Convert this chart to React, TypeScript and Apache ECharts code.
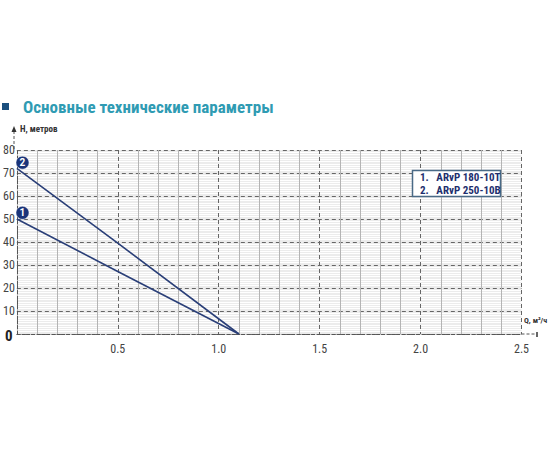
import React, { useEffect, useRef } from "react";
import * as echarts from "echarts";

const xTicks = [0, 0.5, 1.0, 1.5, 2.0, 2.5];
const yTicks = [0, 10, 20, 30, 40, 50, 60, 70, 80];
const curve1 = [[0, 50], [0.5, 27.2], [1.1, 0]];
const curve2 = [[0, 72], [0.5, 39.5], [1.1, 0]];
const badges = [
  { name: "1", value: [0.028, 52.7] },
  { name: "2", value: [0.028, 74.5] },
];
const legendLines = ["1.   ARvP 180-10T", "2.   ARvP 250-10B"];
const title = "Основные технические параметры";
const yName = "H, метров";
const xName = "Q, м³/ч";

const NAVY = "#2a3f78";
const FONT = "'Liberation Sans Narrow', 'Roboto Condensed', 'DejaVu Sans Condensed', 'Liberation Sans', sans-serif";

export default function App() {
  const ref = useRef<HTMLDivElement>(null);
  useEffect(() => {
    const chart = echarts.init(ref.current!, null, { renderer: "svg" });
    chart.setOption({
      animation: false,
      backgroundColor: "#ffffff",
      grid: {
        left: 14,
        right: 28.5,
        top: 150,
        bottom: 116,
        show: true,
        backgroundColor: "#ececec",
        borderWidth: 0,
      },
      xAxis: {
        type: "value",
        min: xTicks[0],
        max: xTicks[xTicks.length - 1],
        interval: 0.5,
        axisLine: { show: true, lineStyle: { color: "#555", type: [3, 2], width: 1 } },
        axisTick: { show: false },
        axisLabel: {
          color: "#444",
          fontSize: 12,
          fontFamily: FONT,
          margin: 9,
          formatter: (v: number) => (v === 0 ? "" : v.toFixed(1)),
        },
        splitLine: { show: true, lineStyle: { color: "#666", type: [4, 3], width: 1 } },
        minorTick: { show: false, splitNumber: 5 },
        minorSplitLine: { show: true, lineStyle: { color: "#b4b4b4", width: 1 } },
      },
      yAxis: {
        type: "value",
        min: yTicks[0],
        max: yTicks[yTicks.length - 1],
        interval: 10,
        axisLine: { show: true, lineStyle: { color: "#555", type: [3, 2], width: 1 } },
        axisTick: { show: false },
        axisLabel: {
          color: "#444",
          fontSize: 12,
          fontFamily: FONT,
          margin: 2,
          formatter: (v: number) => (v === 0 ? "" : String(v)),
        },
        splitLine: { show: true, lineStyle: { color: "#666", type: [4, 3], width: 1 } },
        minorTick: { show: false, splitNumber: 10 },
        minorSplitLine: { show: true, lineStyle: { color: "#ffffff", width: 1 } },
      },
      series: [
        {
          type: "line",
          data: curve1,
          symbol: "none",
          lineStyle: { color: NAVY, width: 1.6 },
          z: 5,
        },
        {
          type: "line",
          data: curve2,
          symbol: "none",
          lineStyle: { color: NAVY, width: 1.6 },
          z: 5,
        },
        {
          type: "scatter",
          data: badges,
          symbol: "circle",
          symbolSize: 13,
          itemStyle: { color: "#1a347a", borderColor: "#ffffff", borderWidth: 0.5, opacity: 1 },
          label: {
            show: true,
            position: "inside",
            formatter: "{b}",
            color: "#ffffff",
            fontWeight: "bold",
            fontSize: 10,
            fontFamily: "Roboto, sans-serif",
          },
          z: 6,
        },
      ],
      graphic: [
        { type: "rect", shape: { x: 2, y: 103, width: 7, height: 7 }, style: { fill: "#1b4f7e" } },
        {
          type: "text",
          x: 23,
          y: 106.5,
          style: {
            text: title,
            fill: "#2f9bb3",
            font: "bold 17px " + FONT,
            verticalAlign: "middle",
          },
        },
        {
          type: "line",
          shape: { x1: 14, y1: 131, x2: 14, y2: 150 },
          style: { stroke: "#555", lineWidth: 1, lineDash: [3, 2] },
        },
        {
          type: "polygon",
          shape: { points: [[11.5, 132], [16.5, 132], [14, 126]] },
          style: { fill: "#333" },
        },
        {
          type: "text",
          x: 20,
          y: 129,
          style: { text: yName, fill: "#333", font: "bold 9px " + FONT, verticalAlign: "middle" },
        },
        {
          type: "line",
          shape: { x1: 521.5, y1: 334, x2: 536, y2: 334 },
          style: { stroke: "#555", lineWidth: 1, lineDash: [3, 2] },
        },
        {
          type: "line",
          shape: { x1: 537, y1: 332, x2: 537, y2: 337 },
          style: { stroke: "#333", lineWidth: 1.5 },
        },
        {
          type: "text",
          x: 524,
          y: 320,
          style: { text: xName, fill: "#333", font: "bold 8px " + FONT, verticalAlign: "middle" },
        },
        {
          type: "text",
          x: 5,
          y: 336,
          style: { text: "0", fill: "#222", font: "bold 15px " + FONT, verticalAlign: "middle" },
        },
        {
          type: "rect",
          shape: { x: 412.5, y: 170.5, width: 88, height: 26 },
          style: { fill: "#ffffff", stroke: "#4a6a86", lineWidth: 1.5 },
          z: 10,
        },
        {
          type: "text",
          x: 420,
          y: 177.5,
          z: 11,
          style: { text: legendLines[0], fill: "#1e2f6e", font: "bold 11px " + FONT, verticalAlign: "middle" },
        },
        {
          type: "text",
          x: 420,
          y: 190,
          z: 11,
          style: { text: legendLines[1], fill: "#1e2f6e", font: "bold 11px " + FONT, verticalAlign: "middle" },
        },
      ],
    });
    return () => chart.dispose();
  }, []);
  return <div ref={ref} style={{ width: 550, height: 450, position: "absolute", left: 0, top: 0 }} />;
}
